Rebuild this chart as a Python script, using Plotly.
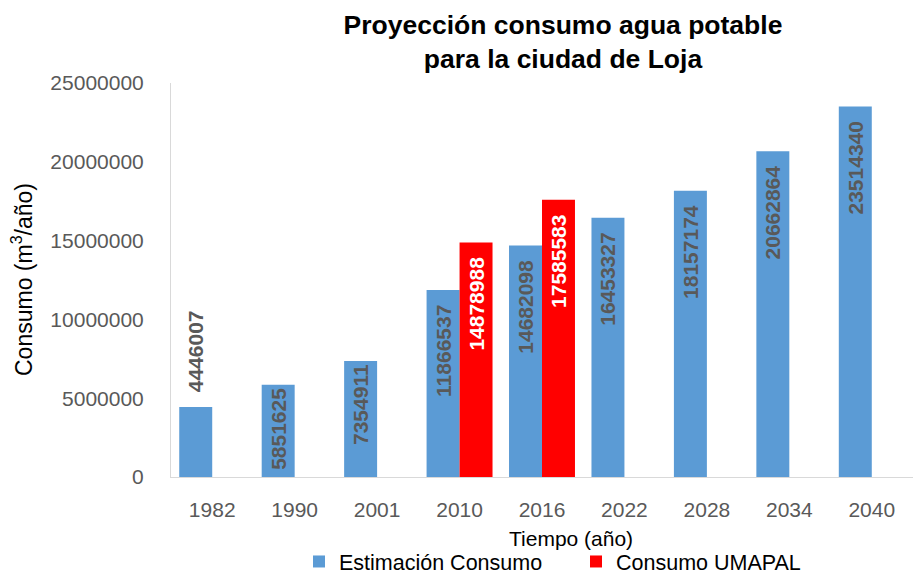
import plotly.graph_objects as go

# Years on the category axis
years = ["1982", "1990", "2001", "2010", "2016", "2022", "2028", "2034", "2040"]

# Projected consumption (m3/year)
estimacion = [4446007, 5851625, 7354911, 11866537, 14682098, 16453327, 18157174, 20662864, 23514340]

# Measured consumption reported by UMAPAL (only 2010 and 2016)
umapal = [None, None, None, 14878988, 17585583, None, None, None, None]

y_ticks = [0, 5000000, 10000000, 15000000, 20000000, 25000000]

W, H = 913, 576
ML, MR, MT, MB = 171, 0, 83, 99
PW, PH = W - ML - MR, H - MT - MB

BLUE = "#5B9BD5"
RED = "#FF0000"
LABEL_GRAY = "#595959"
FONT = "Liberation Sans, Arial, sans-serif"
PAD = "\u00a0\u00a0"  # gap between a long label and the bar end


def px_x(px):
    return (px - ML) / PW


def px_y(py):
    return (H - MB - py) / PH


def label(v, outside=False):
    s = str(v)
    if outside:
        return PAD + s
    return s + PAD if len(s) >= 8 else s


est_pos = ["outside" if v < 5000000 else "inside" for v in estimacion]
est_text = [label(v, p == "outside") for v, p in zip(estimacion, est_pos)]
uma_text = [label(v) if v is not None else "" for v in umapal]

fig = go.Figure()
fig.add_trace(go.Bar(
    x=years, y=estimacion, name="Estimación Consumo",
    marker=dict(color=BLUE, line=dict(width=0)),
    text=est_text, textposition=est_pos, textangle=-90,
    insidetextanchor="end", constraintext="none", cliponaxis=False,
    insidetextfont=dict(family=FONT, size=21, color=LABEL_GRAY, weight="bold"),
    outsidetextfont=dict(family=FONT, size=21, color=LABEL_GRAY, weight="bold"),
))
fig.add_trace(go.Bar(
    x=years, y=umapal, name="Consumo UMAPAL",
    marker=dict(color=RED, line=dict(width=0)),
    text=uma_text, textposition="inside", textangle=-90,
    insidetextanchor="end", constraintext="none",
    insidetextfont=dict(family=FONT, size=21, color="white", weight="bold"),
))

fig.update_layout(
    width=W, height=H,
    margin=dict(l=ML, r=MR, t=MT, b=MB, autoexpand=False),
    paper_bgcolor="white", plot_bgcolor="white",
    barmode="group", bargap=0.2, bargroupgap=0,
    font=dict(family=FONT, color=LABEL_GRAY),
    title=dict(
        text="Proyección consumo agua potable<br>para la ciudad de Loja",
        font=dict(family=FONT, size=26.5, color="black", weight="bold"),
        xref="container", yref="container",
        x=563 / W, xanchor="center", y=1 - 34 / H, yanchor="middle",
    ),
    xaxis=dict(
        type="category", showgrid=False, zeroline=False,
        showline=True, linecolor="#D9D9D9", linewidth=1,
        ticks="", ticklabelstandoff=14,
        tickfont=dict(family=FONT, size=21, color=LABEL_GRAY),
    ),
    yaxis=dict(
        range=[0, 25000000], tickvals=y_ticks,
        ticktext=[str(v) for v in y_ticks],
        showgrid=False, zeroline=False,
        showline=True, linecolor="#D9D9D9", linewidth=1,
        ticks="", ticklabelstandoff=22,
        tickfont=dict(family=FONT, size=21, color=LABEL_GRAY),
    ),
    legend=dict(
        orientation="h", x=px_x(299), xanchor="left",
        y=px_y(H + 6), yanchor="bottom",
        font=dict(family=FONT, size=21.5, color="black"),
        bgcolor="rgba(0,0,0,0)", traceorder="normal",
        entrywidth=232, entrywidthmode="pixels",
    ),
    showlegend=True,
    annotations=[
        dict(text="Consumo (m<sup>3</sup>/año)", xref="paper", yref="paper",
             x=px_x(22), y=px_y(280), textangle=-90, showarrow=False,
             xanchor="center", yanchor="middle",
             font=dict(family=FONT, size=23, color="black")),
        dict(text="Tiempo (año)", xref="paper", yref="paper",
             x=px_x(571), y=px_y(538), showarrow=False,
             xanchor="center", yanchor="middle",
             font=dict(family=FONT, size=21, color="black")),
    ],
)

fig.write_html("out.html")
